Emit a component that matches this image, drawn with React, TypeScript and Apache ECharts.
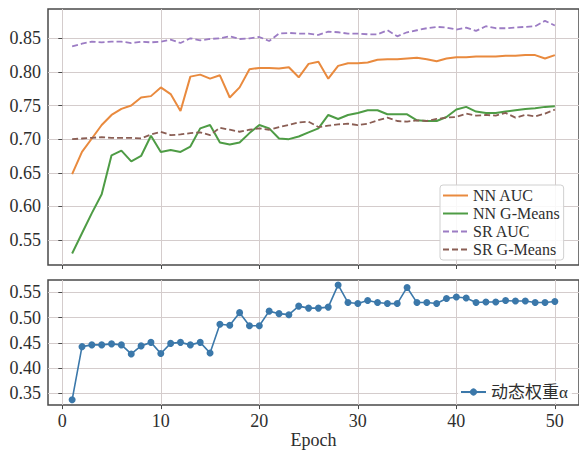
import React, { useEffect, useRef } from 'react';
import * as echarts from 'echarts';

const epochs = [1,2,3,4,5,6,7,8,9,10,11,12,13,14,15,16,17,18,19,20,21,22,23,24,25,26,27,28,29,30,31,32,33,34,35,36,37,38,39,40,41,42,43,44,45,46,47,48,49,50];

const nnAuc = [0.648,0.681,0.701,0.721,0.736,0.745,0.75,0.762,0.764,0.777,
  0.767,0.742,0.793,0.796,0.79,0.795,0.762,0.777,0.804,0.806,
  0.806,0.805,0.807,0.792,0.812,0.815,0.79,0.809,0.813,0.813,
  0.814,0.818,0.819,0.819,0.82,0.821,0.819,0.816,0.82,0.822,
  0.822,0.823,0.823,0.823,0.824,0.824,0.825,0.825,0.82,0.825];

const nnGm = [0.53,0.56,0.59,0.618,0.676,0.683,0.667,0.675,0.705,0.681,
  0.684,0.681,0.689,0.716,0.721,0.695,0.692,0.695,0.709,0.721,
  0.716,0.701,0.7,0.704,0.71,0.716,0.736,0.73,0.736,0.739,
  0.743,0.743,0.737,0.737,0.737,0.728,0.727,0.727,0.733,0.744,
  0.748,0.741,0.739,0.739,0.741,0.743,0.745,0.746,0.748,0.749];

const srAuc = [0.838,0.842,0.845,0.844,0.845,0.845,0.843,0.845,0.844,0.845,
  0.848,0.843,0.85,0.847,0.849,0.85,0.853,0.849,0.85,0.852,
  0.846,0.857,0.858,0.857,0.857,0.855,0.86,0.859,0.857,0.857,
  0.856,0.856,0.862,0.853,0.859,0.862,0.865,0.867,0.866,0.863,
  0.866,0.861,0.868,0.865,0.865,0.866,0.867,0.868,0.876,0.869];

const srGm = [0.7,0.701,0.702,0.703,0.702,0.702,0.702,0.701,0.707,0.711,
  0.706,0.707,0.709,0.71,0.706,0.717,0.714,0.711,0.714,0.716,
  0.714,0.718,0.721,0.725,0.726,0.718,0.72,0.722,0.723,0.721,
  0.723,0.728,0.732,0.727,0.726,0.728,0.727,0.73,0.732,0.733,
  0.738,0.735,0.736,0.735,0.739,0.732,0.736,0.734,0.738,0.744];

const alpha = [0.337,0.4425,0.446,0.446,0.448,0.446,0.428,0.444,0.451,0.429,
  0.449,0.451,0.446,0.451,0.43,0.487,0.485,0.51,0.484,0.484,
  0.513,0.508,0.506,0.523,0.519,0.519,0.521,0.565,0.53,0.528,
  0.534,0.53,0.528,0.528,0.56,0.53,0.53,0.528,0.538,0.541,
  0.539,0.53,0.531,0.531,0.534,0.533,0.533,0.53,0.53,0.532];

const xTicks = [0, 10, 20, 30, 40, 50];
const yTopTicks = [0.55, 0.6, 0.65, 0.7, 0.75, 0.8, 0.85];
const yBottomTicks = [0.35, 0.4, 0.45, 0.5, 0.55];

const topNames = ['NN AUC', 'NN G-Means', 'SR AUC', 'SR G-Means'];
const bottomName = '动态权重α';

export default function App() {
  const ref = useRef<HTMLDivElement>(null);
  useEffect(() => {
    const chart = echarts.init(ref.current!, null, { renderer: 'svg' });
    const font = "'Liberation Serif', 'Noto Sans CJK SC', serif";
    const frame = '#4a4a4a';
    const gridColor = '#d4cccc';
    const textColor = '#2e2e2e';
    const pairs = (vals: number[]) => epochs.map((e, i) => [e, vals[i]]);

    const xAxis = (gridIndex: number, showLabel: boolean, extra: any = {}) => ({
      type: 'value',
      gridIndex,
      min: -1.45,
      max: 52.45,
      axisLine: { show: false },
      axisTick: { show: true, customValues: xTicks, length: 4, lineStyle: { color: frame, width: 1 } },
      axisLabel: {
        show: showLabel, customValues: xTicks, margin: 7,
        fontFamily: font, fontSize: 18, color: textColor,
      },
      splitLine: { show: true, lineStyle: { color: gridColor, width: 1 } },
      ...extra,
    });
    const yAxis = (gridIndex: number, min: number, max: number, ticks: number[]) => ({
      type: 'value',
      gridIndex,
      min,
      max,
      axisLine: { show: false },
      axisTick: { show: true, customValues: ticks, length: 4, lineStyle: { color: frame, width: 1 } },
      axisLabel: {
        customValues: ticks, margin: 7,
        fontFamily: font, fontSize: 18, color: textColor,
        formatter: (v: number) => v.toFixed(2),
      },
      splitLine: { show: true, lineStyle: { color: gridColor, width: 1 } },
    });

    const lineSeries = (name: string, vals: number[], color: string, dashed: boolean) => ({
      name,
      type: 'line',
      xAxisIndex: 0,
      yAxisIndex: 0,
      data: pairs(vals),
      showSymbol: false,
      symbol: 'circle',
      lineStyle: { color, width: dashed ? 1.8 : 2, type: dashed ? [6, 3] : 'solid' },
      itemStyle: { color: 'rgba(0,0,0,0)', borderWidth: 0 },
      z: 3,
    });

    chart.setOption({
      animation: false,
      backgroundColor: '#ffffff',
      grid: [
        { left: 48, top: 9, width: 533, height: 256, show: true, borderColor: frame, borderWidth: 1.5, backgroundColor: 'transparent' },
        { left: 48, top: 280, width: 533, height: 127, show: true, borderColor: frame, borderWidth: 1.5, backgroundColor: 'transparent' },
      ],
      xAxis: [
        xAxis(0, false),
        xAxis(1, true, {
          name: 'Epoch', nameLocation: 'middle', nameGap: 25,
          nameTextStyle: { fontFamily: font, fontSize: 18, color: textColor },
        }),
      ],
      yAxis: [
        yAxis(0, 0.5128, 0.8936, yTopTicks),
        yAxis(1, 0.3265, 0.5748, yBottomTicks),
      ],
      legend: [
        {
          data: topNames,
          orient: 'vertical',
          left: 440,
          top: 185,
          padding: [2, 4, 2, 2],
          itemWidth: 25,
          itemHeight: 10,
          itemGap: 1,
          backgroundColor: 'rgba(255,255,255,0.85)',
          borderColor: '#d0d0d0',
          borderWidth: 1,
          borderRadius: 3,
          textStyle: { fontFamily: font, fontSize: 16, lineHeight: 17, color: textColor },
        },
        {
          data: [bottomName],
          orient: 'vertical',
          left: 458,
          top: 381,
          padding: [2, 4, 2, 2],
          itemWidth: 25,
          itemHeight: 9,
          backgroundColor: 'rgba(255,255,255,0.85)',
          textStyle: { fontFamily: font, fontSize: 17, lineHeight: 18, color: textColor },
        },
      ],
      series: [
        lineSeries(topNames[0], nnAuc, '#e98a3e', false),
        lineSeries(topNames[1], nnGm, '#4e9c45', false),
        lineSeries(topNames[2], srAuc, '#9c7cc4', true),
        lineSeries(topNames[3], srGm, '#8a5e54', true),
        {
          name: bottomName,
          type: 'line',
          xAxisIndex: 1,
          yAxisIndex: 1,
          data: pairs(alpha),
          symbol: 'circle',
          symbolSize: 7,
          lineStyle: { color: '#3b78aa', width: 1.6 },
          itemStyle: { color: '#3b78aa' },
          z: 3,
        },
      ],
    });
    return () => chart.dispose();
  }, []);
  return <div ref={ref} style={{ position: 'fixed', left: 0, top: 0, width: 579, height: 450 }} />;
}
